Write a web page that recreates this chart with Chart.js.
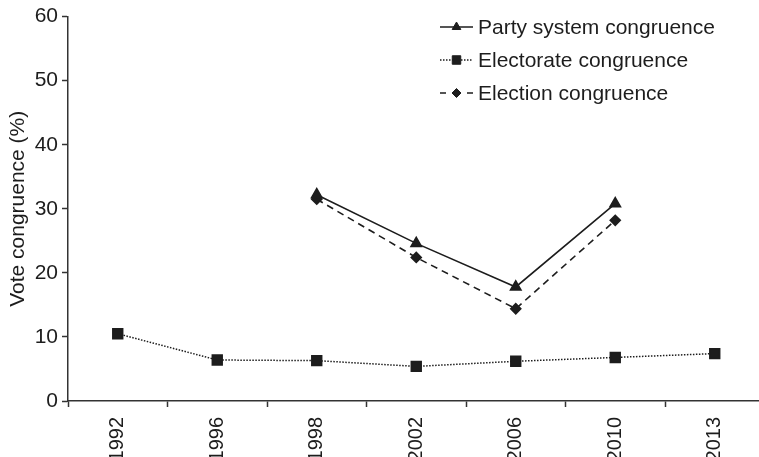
<!DOCTYPE html>
<html>
<head>
<meta charset="utf-8">
<script src="https://cdn.jsdelivr.net/npm/chart.js@4/dist/chart.umd.min.js"></script>
<style>
  html, body { margin: 0; padding: 0; background: #fff; overflow: hidden; }
  #wrap { width: 773px; height: 457px; }
</style>
</head>
<body>
<div id="wrap"><canvas id="chart"></canvas></div>
<script>
// Data
const years = ['1992', '1996', '1998', '2002', '2006', '2010', '2013'];
const partySystem = [null, null, 32.2, 24.6, 17.8, 30.8, null];
const electorate = [10.5, 6.4, 6.3, 5.4, 6.2, 6.8, 7.4];
const election = [null, null, 31.5, 22.4, 14.4, 28.2, null];
const yTicks = [0, 10, 20, 30, 40, 50, 60];

const ink = '#1d1d1d';
const fontFamily = '"Liberation Sans", Arial, Helvetica, sans-serif';

// Legend drawn by hand: line sample with marker in the middle
const sampleLegend = {
    id: 'sampleLegend',
    afterDraw(chart) {
        const ctx = chart.ctx;
        const x0 = 440, x1 = 473, tx = 478;
        const rows = [27, 60, 93];
        chart.data.datasets.forEach((ds, i) => {
            const y = rows[i];
            ctx.save();
            ctx.strokeStyle = ds.borderColor;
            ctx.lineWidth = ds.borderWidth;
            ctx.setLineDash(ds.legendDash || []);
            ctx.beginPath();
            ctx.moveTo(x0, y);
            ctx.lineTo(x1, y);
            ctx.stroke();
            ctx.setLineDash([]);
            ctx.fillStyle = ds.pointBackgroundColor;
            ctx.strokeStyle = ds.pointBorderColor;
            ctx.lineWidth = 1;
            Chart.helpers.drawPoint(ctx, {
                pointStyle: ds.pointStyle,
                radius: ds.legendRadius,
                rotation: 0,
                borderWidth: 1
            }, (x0 + x1) / 2, y);
            ctx.fillStyle = ink;
            ctx.font = '21px ' + fontFamily;
            ctx.textBaseline = 'middle';
            ctx.textAlign = 'left';
            ctx.fillText(ds.label, tx, y + 1);
            ctx.restore();
        });
    }
};

new Chart(document.getElementById('chart'), {
    type: 'line',
    data: {
        labels: years,
        datasets: [
            {
                label: 'Party system congruence',
                data: partySystem,
                borderColor: ink,
                borderWidth: 1.6,
                pointStyle: 'triangle',
                pointRadius: 6,
                pointBackgroundColor: ink,
                pointBorderColor: ink,
                legendDash: [],
                legendRadius: 5
            },
            {
                label: 'Electorate congruence',
                data: electorate,
                borderColor: ink,
                borderWidth: 1.5,
                borderDash: [1.5, 1.5],
                pointStyle: 'rect',
                pointRadius: 7,
                pointBackgroundColor: ink,
                pointBorderColor: ink,
                legendDash: [1.5, 1.5],
                legendRadius: 6
            },
            {
                label: 'Election congruence',
                data: election,
                borderColor: ink,
                borderWidth: 1.6,
                borderDash: [7, 5],
                pointStyle: 'rectRot',
                pointRadius: 5,
                pointBackgroundColor: ink,
                pointBorderColor: ink,
                legendDash: [6, 21],
                legendRadius: 4.5
            }
        ]
    },
    options: {
        responsive: true,
        maintainAspectRatio: false,
        animation: false,
        spanGaps: false,
        layout: { padding: { top: 16, right: 0, left: 0, bottom: 0 } },
        plugins: {
            legend: { display: false },
            tooltip: { enabled: false }
        },
        scales: {
            x: {
                offset: true,
                grid: {
                    offset: true,
                    drawOnChartArea: false,
                    drawTicks: true,
                    tickLength: 6,
                    tickColor: '#333',
                    tickWidth: 1.5
                },
                border: { color: '#333', width: 1.5 },
                ticks: {
                    color: ink,
                    font: { family: fontFamily, size: 20 },
                    minRotation: 90,
                    maxRotation: 90,
                    padding: 10
                },
                afterFit(scale) { scale.height = 56; }
            },
            y: {
                min: 0,
                max: 60,
                afterBuildTicks(scale) {
                    scale.ticks = yTicks.map(v => ({ value: v }));
                },
                grid: {
                    drawOnChartArea: false,
                    drawTicks: true,
                    tickLength: 6,
                    tickColor: '#333',
                    tickWidth: 1.5
                },
                border: { color: '#333', width: 1.5 },
                ticks: {
                    color: ink,
                    font: { family: fontFamily, size: 21 },
                    padding: 4
                },
                title: {
                    display: true,
                    text: 'Vote congruence (%)',
                    color: ink,
                    font: { family: fontFamily, size: 21 },
                    padding: { top: 6, bottom: 0 }
                },
                afterFit(scale) { scale.width = 68; }
            }
        }
    },
    plugins: [sampleLegend]
});
</script>
</body>
</html>
